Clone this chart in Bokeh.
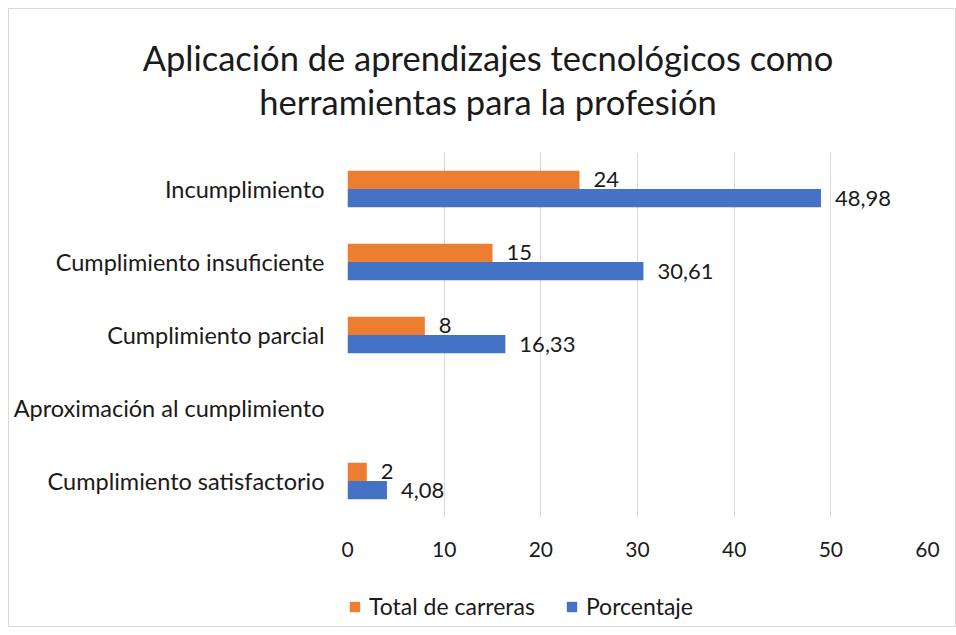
import numpy as np
from bokeh.plotting import figure
from bokeh.layouts import column
from bokeh.models import ColumnDataSource, Legend, LegendItem, FixedTicker, Div
from bokeh.transform import dodge
from bokeh.core.properties import value
from bokeh.embed import file_html
from bokeh.resources import INLINE

categories = ["Incumplimiento", "Cumplimiento insuficiente", "Cumplimiento parcial",
              "Aproximación al cumplimiento", "Cumplimiento satisfactorio"]
total_carreras = [24, 15, 8, None, 2]
porcentaje = [48.98, 30.61, 16.33, None, 4.08]
x_ticks = [0, 10, 20, 30, 40, 50, 60]
title_lines = ["Aplicación de aprendizajes tecnológicos como", "herramientas para la profesión"]
series_names = ["Total de carreras", "Porcentaje"]

ORANGE = "#ED7D31"
BLUE = "#4472C4"
GRID = "#D9D9D9"
FONT = "Lato"
TXT = "#1a1a1a"
W = 946


def fmt(v):
    if v is None:
        return ""
    return f"{v:g}".replace(".", ",")


def num(v):
    return np.nan if v is None else float(v)


# ---- title ----
title_html = (
    f'<div style="display:block; box-sizing:border-box; width:{W}px; padding-top:27px; '
    f'padding-left:12px; text-align:center; '
    f'font-family:{FONT}; font-size:34.5px; line-height:44px; color:{TXT}; white-space:nowrap;">'
    + "<br>".join(title_lines) + "</div>"
)
tdiv = Div(text=title_html, width=W, height=143, margin=0)

# ---- main chart ----
y_factors = list(reversed(categories))
p = figure(width=W, height=418, y_range=y_factors, x_range=(0, 60),
           output_backend="svg", toolbar_location=None,
           min_border_left=338, min_border_right=W - 338 - 580,
           min_border_top=0, min_border_bottom=53)

src = ColumnDataSource(dict(
    cat=categories,
    total=np.array([num(v) for v in total_carreras]),
    pct=np.array([num(v) for v in porcentaje]),
    total_lbl=[fmt(v) for v in total_carreras],
    pct_lbl=[fmt(v) for v in porcentaje],
))

bh = 0.25
p.hbar(y=dodge("cat", bh / 2, range=p.y_range), right="total", left=0, height=bh,
       source=src, fill_color=ORANGE, line_color=None)
p.hbar(y=dodge("cat", -bh / 2, range=p.y_range), right="pct", left=0, height=bh,
       source=src, fill_color=BLUE, line_color=None)

p.text(x="total", y=dodge("cat", bh / 2, range=p.y_range), text="total_lbl", source=src,
       x_offset=14, text_baseline="middle", text_align="left",
       text_font=value(FONT), text_font_size="22px", text_color=TXT)
p.text(x="pct", y=dodge("cat", -bh / 2, range=p.y_range), text="pct_lbl", source=src,
       x_offset=14, text_baseline="middle", text_align="left",
       text_font=value(FONT), text_font_size="22px", text_color=TXT)

p.xaxis.ticker = FixedTicker(ticks=x_ticks)
for ax in (p.xaxis[0], p.yaxis[0]):
    ax.axis_line_color = None
    ax.major_tick_line_color = None
    ax.minor_tick_line_color = None
    ax.major_label_text_font = FONT
    ax.major_label_text_color = TXT
p.xaxis.major_label_text_font_size = "21px"
p.yaxis.major_label_text_font_size = "23.5px"
p.xaxis.major_label_standoff = 18
p.yaxis.major_label_standoff = 17

p.xgrid.grid_line_color = GRID
p.ygrid.grid_line_color = None
p.outline_line_color = None

# ---- legend ----
lf = figure(width=W, height=56, x_range=(0, 1), y_range=(0, 1),
            output_backend="svg", toolbar_location=None,
            min_border_left=0, min_border_right=0, min_border_top=0, min_border_bottom=0)
lf.axis.visible = False
lf.grid.visible = False
lf.outline_line_color = None
# legend keys: same series, placed outside this strip's visible range
k1 = lf.hbar(y=-10, right="total", left=0, height=0.1, source=src,
             fill_color=ORANGE, line_color=None)
k2 = lf.hbar(y=-10, right="pct", left=0, height=0.1, source=src,
             fill_color=BLUE, line_color=None)
legend = Legend(items=[LegendItem(label=series_names[0], renderers=[k1], index=0),
                       LegendItem(label=series_names[1], renderers=[k2], index=0)],
                orientation="horizontal", location=(1, 6),
                label_text_font=FONT, label_text_font_size="23px", label_text_color=TXT,
                glyph_width=13, glyph_height=13, spacing=30, label_standoff=8,
                border_line_color=None, background_fill_alpha=0, margin=0, padding=0)
lf.add_layout(legend, "center")

layout = column(tdiv, p, lf, spacing=0)
layout.styles = {"border": "1px solid #D9D9D9", "margin-left": "8px", "margin-top": "8px"}

open("out.html", "w").write(file_html(layout, INLINE))
